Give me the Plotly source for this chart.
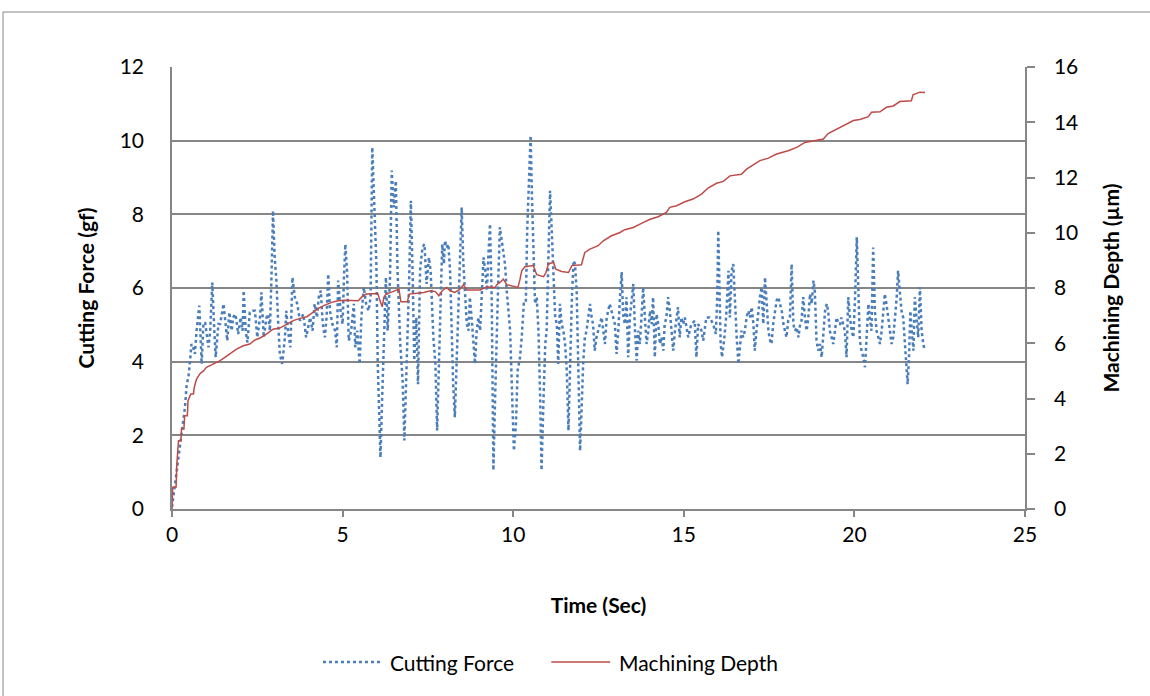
import plotly.graph_objects as go

# Cutting force record (time in s, force in gf)
force_time = [
    0.00, 0.09, 0.19, 0.25, 0.33, 0.38, 0.43, 0.48, 0.53, 0.57, 0.62, 0.67, 0.72, 0.77, 0.80, 0.87,
    0.92, 0.97, 1.02, 1.07, 1.12, 1.18, 1.24, 1.28, 1.36, 1.41, 1.51, 1.55, 1.62, 1.68, 1.75, 1.79,
    1.86, 1.94, 2.01, 2.07, 2.10, 2.16, 2.21, 2.28, 2.36, 2.43, 2.50, 2.58, 2.62, 2.69, 2.77, 2.82,
    2.87, 2.92, 2.96, 3.01, 3.06, 3.11, 3.16, 3.23, 3.31, 3.35, 3.40, 3.47, 3.53, 3.60, 3.67, 3.75,
    3.85, 3.93, 4.00,
    4.05, 4.12, 4.18, 4.25, 4.30, 4.36, 4.42, 4.48, 4.53, 4.58, 4.63, 4.70, 4.78, 4.83, 4.87, 4.94,
    5.00, 5.04, 5.08, 5.13, 5.18, 5.25, 5.33, 5.37, 5.43, 5.50, 5.55, 5.62, 5.69, 5.76, 5.82, 5.87,
    5.94, 5.99, 6.03, 6.08, 6.11, 6.16, 6.21, 6.27, 6.32, 6.39, 6.44, 6.50, 6.56, 6.61, 6.69, 6.76,
    6.81, 6.85, 6.90, 6.95, 7.00, 7.05, 7.10, 7.16, 7.21, 7.27, 7.34, 7.40, 7.46, 7.53, 7.58, 7.66,
    7.72, 7.77, 7.82, 7.87, 7.92, 7.97,
    8.00, 8.05, 8.10, 8.15, 8.20, 8.24, 8.29, 8.34, 8.39, 8.44, 8.49, 8.54, 8.59, 8.64, 8.69, 8.73,
    8.78, 8.83, 8.88, 8.93, 8.98, 9.03, 9.08, 9.13, 9.18, 9.23, 9.27, 9.32, 9.37, 9.40, 9.42, 9.47,
    9.52, 9.57, 9.61, 9.66, 9.71, 9.76, 9.81, 9.86, 9.91, 9.94, 9.99, 10.02, 10.08, 10.13, 10.20,
    10.25, 10.31, 10.37, 10.41, 10.47, 10.51, 10.55, 10.59, 10.64, 10.69, 10.74, 10.79, 10.83, 10.89,
    10.94, 10.98, 11.03, 11.08, 11.13, 11.18, 11.23, 11.28, 11.32, 11.37, 11.42, 11.47, 11.52, 11.57,
    11.62, 11.67, 11.72, 11.77,
    11.81, 11.86, 11.91, 11.96, 12.00, 12.05, 12.10, 12.15, 12.20, 12.25, 12.30, 12.34, 12.39, 12.44,
    12.49, 12.54, 12.59, 12.64, 12.69, 12.74, 12.79, 12.83, 12.88, 12.93, 12.98, 13.03, 13.08, 13.13,
    13.18, 13.22, 13.27, 13.32, 13.37, 13.42, 13.47, 13.52, 13.57, 13.62, 13.66, 13.71, 13.76, 13.81,
    13.86, 13.91, 13.96, 14.01, 14.06, 14.10, 14.15, 14.20, 14.25, 14.30, 14.35, 14.40, 14.44, 14.49,
    14.54, 14.59, 14.64, 14.69, 14.74, 14.79, 14.83, 14.88, 14.93, 14.98, 15.03, 15.13, 15.22, 15.32,
    15.37, 15.42, 15.52, 15.57, 15.66, 15.76, 15.86,
    15.94, 15.98, 16.01, 16.04, 16.08, 16.12, 16.18, 16.24, 16.31, 16.35, 16.40, 16.45, 16.50, 16.55,
    16.60, 16.64, 16.69, 16.74, 16.79, 16.84, 16.89, 16.94, 16.99, 17.04, 17.08, 17.13, 17.18, 17.23,
    17.28, 17.33, 17.38, 17.43, 17.48, 17.53, 17.57, 17.62, 17.67, 17.72, 17.77, 17.82, 17.87, 17.92,
    17.96, 18.01, 18.06, 18.11, 18.16, 18.21, 18.26, 18.31, 18.36, 18.41, 18.45, 18.50, 18.55, 18.60,
    18.65, 18.70, 18.75, 18.80, 18.84, 18.89, 18.94, 18.99, 19.04, 19.09, 19.14, 19.19, 19.23, 19.28,
    19.33, 19.38, 19.43, 19.48, 19.53, 19.58, 19.62, 19.67, 19.72, 19.77, 19.82,
    19.87, 19.92, 19.97, 20.02, 20.07, 20.11, 20.16, 20.21, 20.26, 20.31, 20.36, 20.41, 20.45, 20.50,
    20.55, 20.60, 20.65, 20.70, 20.75, 20.80, 20.84, 20.89, 20.94, 20.99, 21.04, 21.09, 21.14, 21.19,
    21.24, 21.28, 21.33, 21.38, 21.43, 21.48, 21.53, 21.56, 21.60, 21.64, 21.68, 21.73, 21.77, 21.82,
    21.87, 21.92, 21.97, 22.02, 22.06,
]

cutting_force = [
    0.05, 0.68, 1.40, 1.95, 2.40, 2.76, 3.39, 3.57, 4.03, 4.48, 4.39, 4.21, 4.84, 5.20, 5.52, 3.94,
    5.02, 5.07, 4.66, 4.39, 4.84, 6.15, 4.84, 4.12, 5.02, 5.02, 5.57, 5.20, 4.57, 5.34, 4.84, 5.20,
    5.29, 4.75, 5.20, 4.84, 5.93, 4.84, 4.52, 5.34, 5.38, 5.38, 4.66, 5.20, 5.88, 4.66, 5.20, 5.29,
    4.84, 6.47, 8.10, 6.83, 6.20, 5.11, 4.21, 3.94, 4.66, 5.38, 4.84, 4.39, 6.29, 5.75, 5.57, 5.11,
    5.29, 4.66, 5.02,
    5.20, 4.84, 5.57, 5.20, 5.75, 5.93, 5.02, 4.66, 5.20, 6.38, 5.38, 5.02, 4.84, 4.39, 6.20, 5.38,
    5.02, 6.29, 7.19, 6.47, 4.57, 4.84, 5.57, 4.39, 4.84, 3.94, 5.20, 6.02, 5.57, 5.38, 5.75, 9.82,
    7.56, 6.65, 3.94, 1.76, 1.40, 3.03, 4.48, 6.29, 4.84, 6.29, 9.19, 8.19, 8.91, 6.47, 4.48, 3.48,
    1.86, 3.48, 4.66, 6.20, 8.37, 6.47, 4.03, 5.20, 3.39, 6.47, 7.10, 7.19, 6.11, 6.83, 6.47, 4.66,
    3.94, 2.13, 3.94, 5.02, 7.19, 6.65,
    7.29, 7.10, 7.19, 6.47, 4.84, 3.39, 2.49, 3.94, 5.29, 7.10, 8.19, 6.65, 5.75, 5.02, 4.84, 5.75,
    5.20, 4.66, 3.94, 4.84, 5.20, 4.84, 5.75, 6.83, 6.47, 5.93, 6.83, 7.74, 5.75, 2.13, 1.05, 3.03,
    5.20, 6.47, 7.65, 7.29, 7.02, 6.65, 5.93, 5.38, 4.84, 3.94, 2.13, 1.58, 2.31, 3.76, 4.12,
    4.66, 5.57, 5.57, 7.56, 9.37, 10.14, 8.46, 6.83, 5.57, 5.75, 4.84, 3.03, 1.05, 3.03,
    4.48, 4.84, 6.65, 8.64, 7.56, 6.11, 5.20, 5.02, 3.94, 5.57, 5.02, 4.84, 4.48, 3.76,
    2.13, 3.94, 5.75, 6.74,
    6.65, 5.93, 3.94, 1.58, 2.58, 3.94, 4.66, 4.84, 5.20, 5.57, 5.20, 5.02, 4.30, 4.66,
    4.84, 5.02, 5.20, 4.84, 4.48, 5.20, 5.38, 5.57, 5.38, 5.20, 5.02, 4.21, 4.84, 5.75,
    6.43, 5.29, 5.02, 5.75, 4.12, 5.20, 5.75, 6.11, 4.84, 4.03, 4.84, 4.48, 5.20, 6.02,
    5.20, 4.48, 4.84, 5.38, 5.02, 5.75, 4.12, 5.29, 5.02, 4.48, 4.66, 4.30, 5.02, 5.20,
    5.75, 5.38, 4.84, 4.30, 4.84, 5.20, 5.48, 4.66, 5.20, 5.02, 5.20, 4.66, 5.02, 5.11,
    4.12, 5.02, 4.84, 4.57, 5.20, 5.20, 5.02,
    4.75, 5.75, 7.56, 6.20, 4.48, 4.12, 4.57, 5.20, 6.47, 5.20, 6.47, 6.65, 5.57, 4.66,
    3.94, 4.39, 4.84, 4.66, 4.84, 5.20, 5.38, 5.20, 5.48, 5.02, 4.30, 4.84, 5.38, 5.75,
    6.02, 5.02, 6.29, 5.57, 4.84, 4.57, 4.48, 5.02, 5.38, 5.66, 5.75, 5.57, 5.38, 5.02,
    4.84, 4.66, 5.11, 5.20, 6.65, 5.02, 4.84, 4.93, 4.66, 5.02, 5.11, 5.75, 5.20, 4.84,
    5.20, 5.84, 5.57, 6.20, 5.93, 4.57, 4.30, 4.48, 4.12, 4.84, 5.38, 5.57, 5.38, 4.84,
    4.66, 4.48, 4.84, 5.20, 5.02, 5.02, 5.20, 5.02, 4.84, 4.12, 5.75,
    5.20, 4.84, 4.66, 5.75, 7.38, 5.93, 4.57, 4.30, 4.12, 3.85, 4.84, 5.57, 5.20, 4.84,
    7.10, 5.38, 4.84, 4.66, 4.48, 4.84, 5.20, 5.84, 5.57, 5.20, 4.84, 4.48, 4.66, 5.20,
    5.75, 6.47, 5.93, 5.38, 5.20, 4.48, 3.94, 3.39, 4.12, 5.38, 4.84, 4.30, 5.75, 5.20,
    4.66, 6.02, 4.84, 4.48, 4.30,
]

# Machining depth record (time in s, depth in µm)
depth_time = [
    0.00, 0.02, 0.09, 0.12, 0.14, 0.19, 0.26, 0.28, 0.35, 0.37, 0.45, 0.47, 0.55, 0.63, 0.65, 0.72,
    0.82, 0.92, 1.01, 1.21, 1.41, 1.55, 1.70, 1.89, 2.09, 2.28, 2.43, 2.58, 2.77, 2.96, 3.16, 3.35,
    3.55, 3.75, 3.95, 4.09, 4.29, 4.48, 4.68, 4.87, 5.07, 5.46, 5.55, 5.69, 5.85, 6.03, 6.08, 6.16,
    6.21, 6.27, 6.42, 6.61, 6.65, 6.71, 6.90, 6.95, 7.19, 7.38, 7.58, 7.72, 7.82, 7.92, 8.05, 8.15,
    8.29, 8.44, 8.54, 8.64, 9.03, 9.23, 9.47, 9.52, 9.61, 9.71, 9.81, 10.00, 10.14, 10.20, 10.25,
    10.34, 10.59, 10.69, 10.89, 10.96, 11.03, 11.18, 11.25, 11.42, 11.62, 11.72, 12.00, 12.10, 12.25,
    12.49, 12.64, 12.88, 13.13, 13.27, 13.52, 13.76, 14.01, 14.25, 14.49, 14.59, 14.79, 15.03, 15.27,
    15.52, 15.71, 15.96, 16.16, 16.35, 16.69, 16.84, 17.08, 17.23, 17.48, 17.72, 18.06, 18.31, 18.55,
    19.09, 19.23, 19.53, 19.78, 19.97, 20.16, 20.41, 20.50, 20.75, 20.94, 21.14, 21.33, 21.67, 21.72,
    21.92, 22.07,
]

machining_depth = [
    0.00, 0.78, 0.80, 0.80, 1.60, 2.47, 2.47, 2.90, 2.90, 3.38, 3.38, 3.92, 4.16, 4.16, 4.40, 4.70,
    4.90, 5.00, 5.13, 5.25, 5.37, 5.49, 5.63, 5.79, 5.91, 5.97, 6.12, 6.19, 6.33, 6.51, 6.55, 6.69,
    6.82, 6.90, 6.96, 7.08, 7.26, 7.38, 7.48, 7.54, 7.56, 7.54, 7.66, 7.78, 7.78, 7.80, 7.60, 7.32,
    7.66, 7.78, 7.84, 7.96, 7.96, 7.50, 7.50, 7.78, 7.80, 7.84, 7.90, 7.87, 7.72, 7.90, 8.02, 7.90,
    7.84, 7.96, 8.12, 7.93, 7.93, 8.04, 8.02, 8.12, 8.20, 8.32, 8.12, 8.05, 8.02, 8.32, 8.62,
    8.77, 8.81, 8.48, 8.41, 8.56, 8.87, 8.93, 8.68, 8.60, 8.56, 8.81, 8.84, 9.29, 9.41,
    9.53, 9.71, 9.89, 10.01, 10.11, 10.19, 10.34, 10.49, 10.58, 10.74, 10.92, 10.98, 11.12, 11.22,
    11.40, 11.62, 11.79, 11.86, 12.06, 12.12, 12.30, 12.48, 12.61, 12.70, 12.85, 12.97, 13.09, 13.27,
    13.39, 13.59, 13.78, 13.96, 14.06, 14.10, 14.20, 14.36, 14.38, 14.54, 14.59, 14.75, 14.78, 14.99,
    15.09, 15.08,
]

x_ticks = [0, 5, 10, 15, 20, 25]
force_ticks = [0, 2, 4, 6, 8, 10, 12]
depth_ticks = [0, 2, 4, 6, 8, 10, 12, 14, 16]

BLUE = "#4a7ebb"
RED = "#be4b48"
AXIS_GREY = "#868686"
FONT = "Lato, 'Open Sans', sans-serif"
FONT_SIZE = 21

fig = go.Figure()
fig.add_trace(go.Scatter(
    x=force_time, y=cutting_force, mode="lines", name="Cutting Force",
    line=dict(color=BLUE, width=2.5, dash="dot"), yaxis="y",
))
fig.add_trace(go.Scatter(
    x=depth_time, y=machining_depth, mode="lines", name="Machining Depth",
    line=dict(color=RED, width=1.5), yaxis="y2",
))

axis_common = dict(
    showline=True, linecolor=AXIS_GREY, linewidth=1.5,
    tickfont=dict(family=FONT, size=FONT_SIZE, color="#000000"),
    zeroline=False,
)

fig.update_layout(
    width=1150, height=696,
    margin=dict(l=172, r=125, t=67, b=187),
    paper_bgcolor="white", plot_bgcolor="white",
    showlegend=False,
    font=dict(family=FONT, size=FONT_SIZE, color="#000000"),
    xaxis=dict(
        range=[0, 25], tickvals=x_ticks, showgrid=False,
        ticks="outside", ticklen=6, tickcolor=AXIS_GREY, tickwidth=1.5,
        title=dict(text="<b>Time (Sec)</b>", standoff=53,
                   font=dict(family=FONT, size=FONT_SIZE)),
        **axis_common,
    ),
    yaxis=dict(
        range=[0, 12], tickvals=force_ticks, showgrid=True,
        gridcolor=AXIS_GREY, gridwidth=1.5, ticks="", ticklabelstandoff=22,
        title=dict(text="<b>Cutting Force (gf)</b>", standoff=19,
                   font=dict(family=FONT, size=FONT_SIZE)),
        **axis_common,
    ),
    yaxis2=dict(
        range=[0, 16], tickvals=depth_ticks, overlaying="y", side="right",
        showgrid=False, ticks="outside", ticklen=8, tickcolor=AXIS_GREY, tickwidth=1.5,
        ticklabelstandoff=15,
        title=dict(text="<b>Machining Depth (µm)</b>", standoff=27,
                   font=dict(family=FONT, size=FONT_SIZE)),
        **axis_common,
    ),
)

# Legend drawn below the x-axis title
legend_y = -0.3462
fig.add_shape(type="line", xref="paper", yref="paper", x0=0.177, x1=0.245,
              y0=legend_y, y1=legend_y, line=dict(color=BLUE, width=2.5, dash="dot"))
fig.add_shape(type="line", xref="paper", yref="paper", x0=0.4447, x1=0.5137,
              y0=legend_y, y1=legend_y, line=dict(color=RED, width=1.5))
fig.add_annotation(xref="paper", yref="paper", x=0.2532, y=legend_y, text="Cutting Force",
                   showarrow=False, xanchor="left", yanchor="middle",
                   font=dict(family=FONT, size=FONT_SIZE, color="#000000"))
fig.add_annotation(xref="paper", yref="paper", x=0.5215, y=legend_y, text="Machining Depth",
                   showarrow=False, xanchor="left", yanchor="middle",
                   font=dict(family=FONT, size=FONT_SIZE, color="#000000"))

# Outer chart frame (its right and bottom edges run past the page)
fig.add_shape(type="rect", xref="paper", yref="paper",
              x0=(3 - 172) / 853, x1=(1170 - 172) / 853,
              y0=(509 - 720) / 442, y1=(509 - 12) / 442,
              line=dict(color=AXIS_GREY, width=1), fillcolor="rgba(0,0,0,0)", layer="below")

fig.write_html("out.html")
